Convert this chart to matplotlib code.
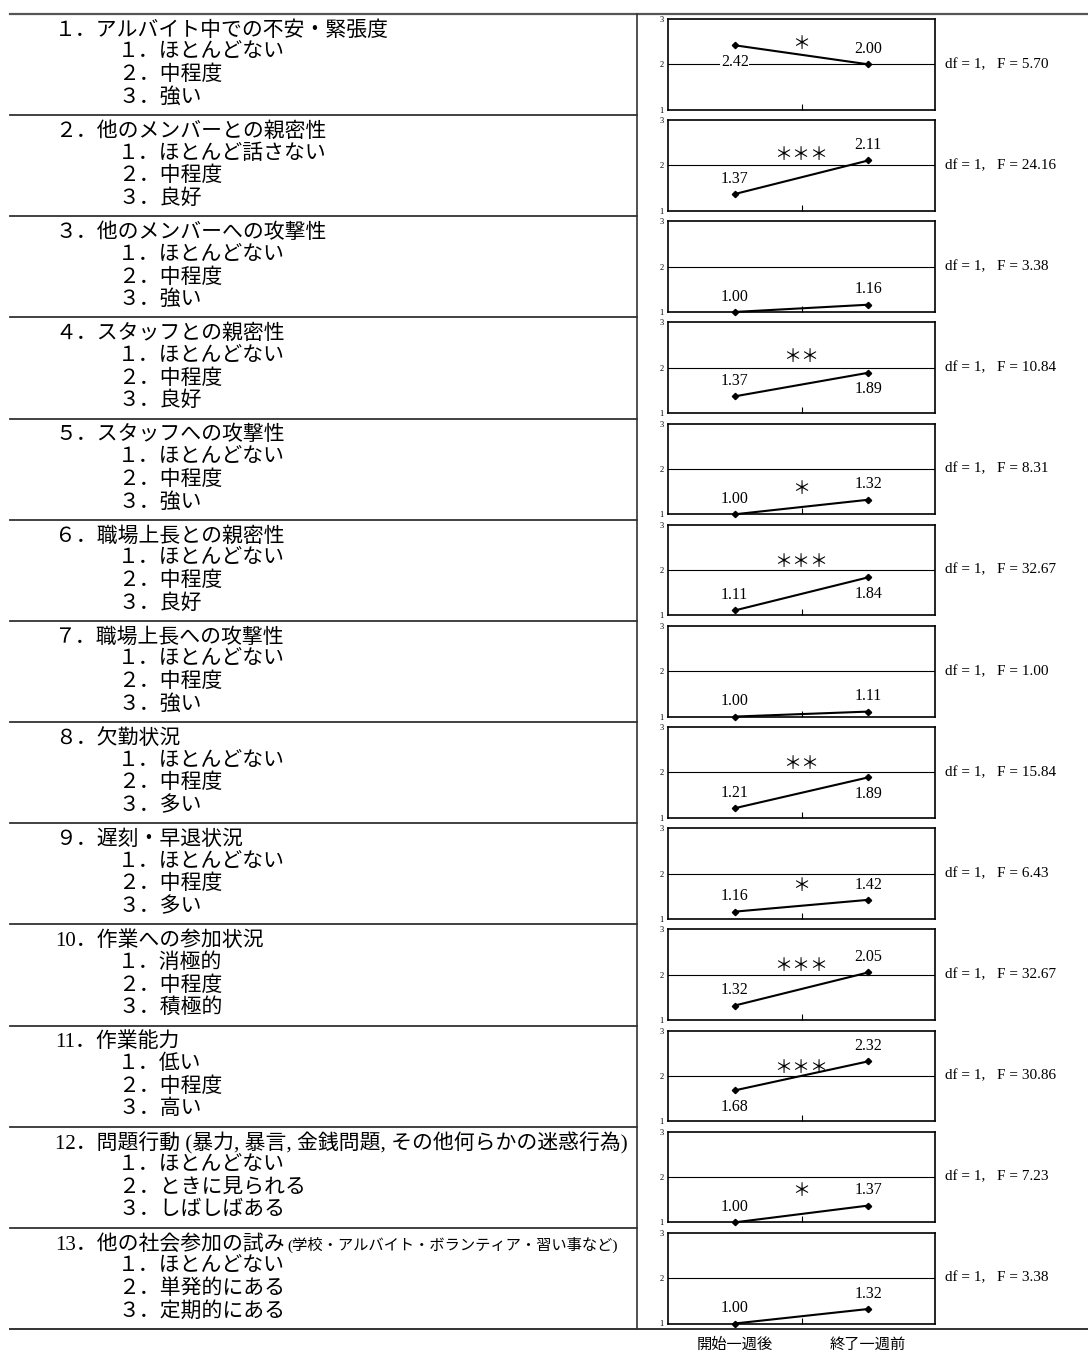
import matplotlib
matplotlib.use("Agg")
import matplotlib.pyplot as plt
from matplotlib.lines import Line2D

# item titles and answer choices
titles = [
    "１．アルバイト中での不安・緊張度",
    "２．他のメンバーとの親密性",
    "３．他のメンバーへの攻撃性",
    "４．スタッフとの親密性",
    "５．スタッフへの攻撃性",
    "６．職場上長との親密性",
    "７．職場上長への攻撃性",
    "８．欠勤状況",
    "９．遅刻・早退状況",
    "10．作業への参加状況",
    "11．作業能力",
    "12．問題行動 (暴力, 暴言, 金銭問題, その他何らかの迷惑行為)",
    "13．他の社会参加の試み",
]
title_notes = ["", "", "", "", "", "", "", "", "", "", "", "",
               "(学校・アルバイト・ボランティア・習い事など)"]
choices = [
    ["ほとんどない", "中程度", "強い"],
    ["ほとんど話さない", "中程度", "良好"],
    ["ほとんどない", "中程度", "強い"],
    ["ほとんどない", "中程度", "良好"],
    ["ほとんどない", "中程度", "強い"],
    ["ほとんどない", "中程度", "良好"],
    ["ほとんどない", "中程度", "強い"],
    ["ほとんどない", "中程度", "多い"],
    ["ほとんどない", "中程度", "多い"],
    ["消極的", "中程度", "積極的"],
    ["低い", "中程度", "高い"],
    ["ほとんどない", "ときに見られる", "しばしばある"],
    ["ほとんどない", "単発的にある", "定期的にある"],
]

# mean scores: one week after start / one week before end
pre = [2.42, 1.37, 1.00, 1.37, 1.00, 1.11, 1.00, 1.21, 1.16, 1.32, 1.68, 1.00, 1.00]
post = [2.00, 2.11, 1.16, 1.89, 1.32, 1.84, 1.11, 1.89, 1.42, 2.05, 2.32, 1.37, 1.32]
f_values = [5.70, 24.16, 3.38, 10.84, 8.31, 32.67, 1.00, 15.84, 6.43, 32.67, 30.86, 7.23, 3.38]
sig = ["＊", "＊＊＊", "", "＊＊", "＊", "＊＊＊", "", "＊＊", "＊", "＊＊＊", "＊＊＊", "＊", ""]
periods = ["開始一週後", "終了一週前"]

# layout: where labels sit (a = above point, b = below) and star heights
pre_side = ["b", "a", "a", "a", "a", "a", "a", "a", "a", "a", "b", "a", "a"]
post_side = ["a", "a", "a", "b", "a", "b", "a", "b", "a", "a", "a", "a", "a"]
star_y = [2.44, 2.24, 0, 2.24, 1.55, 2.18, 0, 2.18, 1.72, 2.2, 2.18, 1.7, 0]

W, H = 1088, 1354
fig = plt.figure(figsize=(W / 100, H / 100), dpi=100)


def fx(px):
    return px / W


def fy(py):
    return 1 - py / H


def hline(x0, x1, y, lw=1.3, color="#333333"):
    fig.add_artist(Line2D([fx(x0), fx(x1)], [fy(y), fy(y)],
                          transform=fig.transFigure, lw=lw, color=color))


jp = ["Liberation Serif", "Noto Sans CJK JP"]
serif = "Liberation Serif"

top, bottom = 14, 1329
n = len(titles)
rh = (bottom - top) / n
ax_left, ax_right = 668, 935

# table rules
hline(10, W, top, lw=1.6, color="#555555")
hline(10, W, bottom, lw=1.4)
for i in range(1, n):
    hline(10, 637, top + i * rh)
fig.add_artist(Line2D([fx(637), fx(637)], [fy(top), fy(bottom)],
                      transform=fig.transFigure, lw=1.2, color="#333333"))

for i in range(n):
    rt = top + i * rh
    t = fig.text(fx(55), fy(rt + 17), titles[i], ha="left", va="center",
                 fontsize=15, family=jp)
    if title_notes[i]:
        plt.annotate(title_notes[i], xy=(1, 0), xycoords=t, xytext=(2, 1),
                     textcoords="offset points", ha="left", va="bottom",
                     fontsize=11, family=jp, annotation_clip=False)
    for k, c in enumerate(choices[i]):
        fig.text(fx(118), fy(rt + 39 + k * 22.5), "１２３"[k] + "．" + c,
                 ha="left", va="center", fontsize=15, family=jp)

    a_top = rt + 5
    a_bot = rt + rh - 5.5
    ax = fig.add_axes([fx(ax_left), fy(a_bot), fx(ax_right) - fx(ax_left),
                       (a_bot - a_top) / H])
    ax.set_xlim(-0.5, 1.5)
    ax.set_ylim(1, 3)
    ax.axhline(2, color="black", lw=0.8, zorder=1)
    ax.plot([0, 1], [pre[i], post[i]], color="black", lw=1.5, marker="D",
            ms=3.2, clip_on=False, zorder=3)
    for x, v, side in [(0, pre[i], pre_side[i]), (1, post[i], post_side[i])]:
        dy = 11 if side == "a" else -12
        ax.annotate(f"{v:.2f}", xy=(x, v), xytext=(0, dy),
                    textcoords="offset points", ha="center", va="center",
                    fontsize=11.5, family=serif, zorder=4,
                    bbox=dict(fc="white", ec="none", pad=0.5))
    if sig[i]:
        ax.text(0.5, star_y[i], sig[i], ha="center", va="center",
                fontsize=13, family="Noto Sans CJK JP")
    ax.set_yticks([1, 2, 3])
    ax.set_yticklabels(["1", "2", "3"], fontsize=6, family=serif)
    ax.tick_params(axis="y", length=0, pad=3)
    ax.set_xticks([0.5])
    ax.set_xticklabels([])
    ax.tick_params(axis="x", direction="in", length=4, width=0.8)
    for s in ax.spines.values():
        s.set_linewidth(1.2)
        s.set_color("black")

    fig.text(fx(945), fy((a_top + a_bot) / 2), f"df = 1,   F = {f_values[i]:.2f}",
             ha="left", va="center", fontsize=11, family=serif)

# time-point labels under the last panel
for x, lab in zip([0, 1], periods):
    px = ax_left + (x + 0.5) / 2 * (ax_right - ax_left)
    fig.text(fx(px), fy(1344), lab, ha="center", va="center", fontsize=11,
             family="Noto Sans CJK JP")

fig.savefig("out.png", dpi=100)
